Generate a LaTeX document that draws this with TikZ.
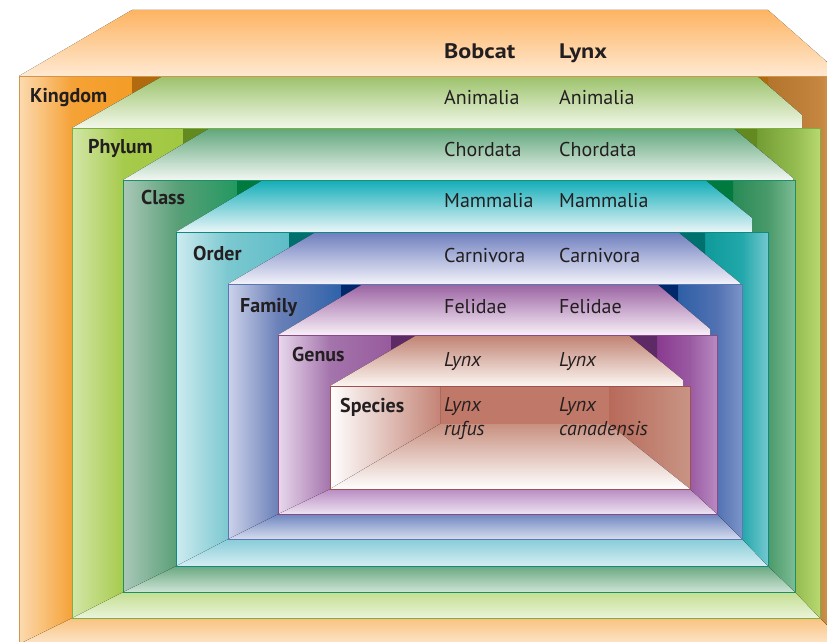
\documentclass[tikz,border=0pt]{standalone}
\usepackage{fontspec}
\setmainfont{PT Sans}
\newfontfamily\headfont{PT Sans}[FakeStretch=1.15]
\usetikzlibrary{positioning}

% level colours: roof top/bottom, left wall light/mid/dark, corner, right wall dark/mid/light, floor back/front, outline
\definecolor{ink}{HTML}{231F20}
\definecolor{kingRoof}{HTML}{FDB462}\definecolor{kingRoofL}{HTML}{FFE9D2}
\definecolor{kingWallL}{HTML}{FCDAB0}\definecolor{kingWallM}{HTML}{F5A236}\definecolor{kingWall}{HTML}{F39A1E}
\definecolor{kingDark}{HTML}{B26A0E}
\definecolor{kingSide}{HTML}{B07028}\definecolor{kingSideM}{HTML}{C48640}\definecolor{kingSideL}{HTML}{E4AA5C}
\definecolor{kingFlr}{HTML}{F8C27E}\definecolor{kingFlrL}{HTML}{FDE6CA}
\definecolor{kingLine}{HTML}{D0954A}
\definecolor{phylRoof}{HTML}{9BC26A}\definecolor{phylRoofL}{HTML}{F3F8EA}
\definecolor{phylWallL}{HTML}{D3E6A8}\definecolor{phylWallM}{HTML}{A6CB4C}\definecolor{phylWall}{HTML}{A0C63C}
\definecolor{phylDark}{HTML}{628A20}
\definecolor{phylSide}{HTML}{5E8A22}\definecolor{phylSideM}{HTML}{94BC50}\definecolor{phylSideL}{HTML}{B8D870}
\definecolor{phylFlr}{HTML}{C4DE90}\definecolor{phylFlrL}{HTML}{EAF4DA}
\definecolor{phylLine}{HTML}{7FAE45}
\definecolor{clasRoof}{HTML}{5FA67A}\definecolor{clasRoofL}{HTML}{F2F7F2}
\definecolor{clasWallL}{HTML}{AAC8B8}\definecolor{clasWallM}{HTML}{5AA078}\definecolor{clasWall}{HTML}{0C9656}
\definecolor{clasDark}{HTML}{007A3E}
\definecolor{clasSide}{HTML}{0E7E48}\definecolor{clasSideM}{HTML}{4A9A6A}\definecolor{clasSideL}{HTML}{7CBC94}
\definecolor{clasFlr}{HTML}{6AA880}\definecolor{clasFlrL}{HTML}{CDE4D6}
\definecolor{clasLine}{HTML}{1A9068}
\definecolor{ordRoof}{HTML}{12ADB8}\definecolor{ordRoofL}{HTML}{EAF6F8}
\definecolor{ordWallL}{HTML}{CDEBF0}\definecolor{ordWallM}{HTML}{7CC8D0}\definecolor{ordWall}{HTML}{50B8C4}
\definecolor{ordDark}{HTML}{00706E}
\definecolor{ordSide}{HTML}{00908F}\definecolor{ordSideM}{HTML}{22A8AA}\definecolor{ordSideL}{HTML}{74C8D0}
\definecolor{ordFlr}{HTML}{88CCD8}\definecolor{ordFlrL}{HTML}{D4EEF3}
\definecolor{ordLine}{HTML}{0E8A80}
\definecolor{famRoof}{HTML}{6E7EBE}\definecolor{famRoofL}{HTML}{F2F2FA}
\definecolor{famWallL}{HTML}{CDD2EA}\definecolor{famWallM}{HTML}{6A80B8}\definecolor{famWall}{HTML}{1A58A4}
\definecolor{famDark}{HTML}{00286A}
\definecolor{famSide}{HTML}{1A55A0}\definecolor{famSideM}{HTML}{5272B2}\definecolor{famSideL}{HTML}{7C94C8}
\definecolor{famFlr}{HTML}{6E86BE}\definecolor{famFlrL}{HTML}{D6DCEF}
\definecolor{famLine}{HTML}{5A78B4}
\definecolor{genRoof}{HTML}{9A62A2}\definecolor{genRoofL}{HTML}{F8F0F8}
\definecolor{genWallL}{HTML}{E8D8EC}\definecolor{genWallM}{HTML}{A474AC}\definecolor{genWall}{HTML}{925096}
\definecolor{genDark}{HTML}{5E2A66}
\definecolor{genSide}{HTML}{7A1F80}\definecolor{genSideM}{HTML}{9A5AA2}\definecolor{genSideL}{HTML}{B88AC0}
\definecolor{genFlr}{HTML}{B88CC2}\definecolor{genFlrL}{HTML}{EEE2F2}
\definecolor{genLine}{HTML}{8A4A88}
\definecolor{spRoof}{HTML}{C08272}\definecolor{spRoofL}{HTML}{FCF6F2}
\definecolor{spWallM}{HTML}{D6A89A}\definecolor{spWall}{HTML}{C48476}\definecolor{spBack}{HTML}{C07868}
\definecolor{spSide}{HTML}{B86A5A}\definecolor{spSideL}{HTML}{C89484}
\definecolor{spFlr}{HTML}{C89080}
\definecolor{spLine}{HTML}{A05050}

\tikzset{
  roof/.style 2 args={top color=#1, bottom color=#2},
  flr/.style 2 args={top color=#1, bottom color=#2},
  wall/.style 2 args={left color=#1, right color=#2},
  front/.style={draw=#1, line width=0.9pt},
  rank/.style={anchor=base west, inner sep=0pt, text=ink,
    font=\fontsize{20}{24}\selectfont\bfseries},
  head/.style={anchor=base west, inner sep=0pt, text=ink,
    font=\headfont\fontsize{21}{24}\selectfont\bfseries},
  taxon/.style={anchor=base west, inner sep=0pt, text=ink,
    font=\fontsize{20}{24}\selectfont},
  genname/.style={taxon, font=\fontsize{20}{24}\selectfont\itshape}
}

\begin{document}
\begin{tikzpicture}[x=1pt, y=-1pt]
\path[use as bounding box] (0,0) rectangle (827,642);
\clip (0,0) rectangle (827,642);

% Kingdom
\fill[roof={kingRoof}{kingRoofL}] (19,76) -- (132,10) -- (768,10) -- (843,76) -- cycle;
\fill[flr={kingFlr}{kingFlrL}] (72,618) -- (820,618) -- (846,644) -- (19,644) -- cycle;
\fill[wall={kingWallL}{kingWallM}] (19,76) -- (72,76) -- (72,618) -- (19,644) -- cycle;
\fill[wall={kingWallM}{kingWall}] (72,76) -- (163,76) -- (72,128) -- cycle;
\fill[kingDark] (132,76) -- (163,76) -- (132,93.7) -- cycle;
\fill[wall={kingSide}{kingSideM}] (757,76) -- (820,76) -- (820,128) -- (802,128) -- (802,115) -- cycle;
\fill[wall={kingSideM}{kingSideL}] (820,76) -- (846,76) -- (846,644) -- (820,618) -- cycle;
\fill[kingDark] (757,76) -- (768,76) -- (768,85.5) -- cycle;

% Phylum
\fill[roof={phylRoof}{phylRoofL}] (72,128) -- (163,76) -- (757,76) -- (802,115) -- (802,128) -- cycle;
\fill[flr={phylFlr}{phylFlrL}] (123,592) -- (795,592) -- (820,618) -- (72,618) -- cycle;
\fill[wall={phylWallL}{phylWallM}] (72,128) -- (123,128) -- (123,592) -- (72,618) -- cycle;
\fill[wall={phylWallM}{phylWall}] (123,128) -- (210,128) -- (123,180) -- cycle;
\fill[phylDark] (183,128) -- (210,128) -- (183,144) -- cycle;
\fill[wall={phylSide}{phylSideM}] (733,128) -- (795,128) -- (795,180) -- (793,180) -- (793,178) -- cycle;
\fill[wall={phylSideM}{phylSideL}] (795,128) -- (820,128) -- (820,618) -- (795,592) -- cycle;
\fill[phylDark] (733,128) -- (757,128) -- (757,148) -- cycle;

% Class
\fill[roof={clasRoof}{clasRoofL}] (123,180) -- (210,128) -- (733,128) -- (793,178) -- (793,180) -- cycle;
\fill[flr={clasFlr}{clasFlrL}] (176,566) -- (768,566) -- (795,592) -- (123,592) -- cycle;
\fill[wall={clasWallL}{clasWallM}] (123,180) -- (176,180) -- (176,566) -- (123,592) -- cycle;
\fill[wall={clasWallM}{clasWall}] (176,180) -- (263,180) -- (176,232) -- cycle;
\fill[clasDark] (237,180) -- (263,180) -- (237,195.5) -- cycle;
\fill[wall={clasSide}{clasSideM}] (705,180) -- (768,180) -- (768,232) -- (752,232) -- (752,218) -- cycle;
\fill[wall={clasSideM}{clasSideL}] (768,180) -- (795,180) -- (795,592) -- (768,566) -- cycle;
\fill[clasDark] (705,180) -- (733,180) -- (733,202.6) -- cycle;

% Order
\fill[roof={ordRoof}{ordRoofL}] (176,232) -- (263,180) -- (705,180) -- (752,218) -- (752,232) -- cycle;
\fill[flr={ordFlr}{ordFlrL}] (228,539) -- (742,539) -- (768,566) -- (176,566) -- cycle;
\fill[wall={ordWallL}{ordWallM}] (176,232) -- (228,232) -- (228,539) -- (176,566) -- cycle;
\fill[wall={ordWallM}{ordWall}] (228,232) -- (316,232) -- (228,284) -- cycle;
\fill[ordDark] (289,232) -- (316,232) -- (289,248) -- cycle;
\fill[wall={ordSide}{ordSideM}] (678,232) -- (742,232) -- (742,284) -- (740,284) -- (740,283) -- cycle;
\fill[wall={ordSideM}{ordSideL}] (742,232) -- (768,232) -- (768,566) -- (742,539) -- cycle;
\fill[ordDark] (678,232) -- (705,232) -- (705,254) -- cycle;

% Family
\fill[roof={famRoof}{famRoofL}] (228,284) -- (316,232) -- (678,232) -- (740,283) -- (740,284) -- cycle;
\fill[flr={famFlr}{famFlrL}] (278,514) -- (717,514) -- (742,539) -- (228,539) -- cycle;
\fill[wall={famWallL}{famWallM}] (228,284) -- (278,284) -- (278,514) -- (228,539) -- cycle;
\fill[wall={famWallM}{famWall}] (278,284) -- (363,284) -- (278,335) -- cycle;
\fill[famDark] (341,284) -- (363,284) -- (341,297) -- cycle;
\fill[wall={famSide}{famSideM}] (657,284) -- (717,284) -- (717,335) -- (710,335) -- (710,329) -- cycle;
\fill[wall={famSideM}{famSideL}] (717,284) -- (742,284) -- (742,539) -- (717,514) -- cycle;
\fill[famDark] (657,284) -- (678,284) -- (678,302) -- cycle;

% Genus
\fill[roof={genRoof}{genRoofL}] (278,335) -- (363,284) -- (657,284) -- (710,329) -- (710,335) -- cycle;
\fill[flr={genFlr}{genFlrL}] (330,489) -- (690,489) -- (717,514) -- (278,514) -- cycle;
\fill[wall={genWallL}{genWallM}] (278,335) -- (330,335) -- (330,489) -- (278,514) -- cycle;
\fill[wall={genWallM}{genWall}] (330,335) -- (417,335) -- (330,386) -- cycle;
\fill[genDark] (391,335) -- (417,335) -- (391,350) -- cycle;
\fill[wall={genSide}{genSideM}] (628,335) -- (690,335) -- (690,386) -- (683,386) -- (683,380) -- cycle;
\fill[wall={genSideM}{genSideL}] (690,335) -- (717,335) -- (717,514) -- (690,489) -- cycle;
\fill[genDark] (628,335) -- (657,335) -- (657,359) -- cycle;

% Species
\fill[roof={spRoof}{spRoofL}] (330,386) -- (417,335) -- (628,335) -- (683,380) -- (683,386) -- cycle;
\fill[spBack] (440,386) rectangle (609,424);
\fill[left color=white, middle color=spWallM, right color=spWall] (330,386) -- (440,386) -- (440,424) -- (330,489) -- cycle;
\fill[wall={spSide}{spSideL}] (609,386) -- (690,386) -- (690,489) -- (609,424) -- cycle;
\fill[flr={spFlr}{white}] (440,424) -- (609,424) -- (690,489) -- (330,489) -- cycle;

% front edges
\draw[front=kingLine] (19,76) rectangle (846,644);
\draw[front=phylLine] (72,128) rectangle (820,618);
\draw[front=clasLine] (123,180) rectangle (795,592);
\draw[front=ordLine] (176,232) rectangle (768,566);
\draw[front=famLine] (228,284) rectangle (742,539);
\draw[front=genLine] (278,335) rectangle (717,514);
\draw[front=spLine] (330,386) rectangle (690,489);

% ranks
\node[rank] (kingdom) at (30,102) {Kingdom};
\node[rank] (phylum) at (88,153) {Phylum};
\node[rank] (class) at (141,204) {Class};
\node[rank] (order) at (193,260) {Order};
\node[rank] (family) at (240,312) {Family};
\node[rank] (genus) at (292,361) {Genus};
\node[rank] (species) at (340,412) {Species};

% bobcat column
\node[head] (bobcat) at (444,59) {Bobcat};
\node[taxon] (bobKing) at (444,104) {Animalia};
\node[taxon] (bobPhyl) at (444,156) {Chordata};
\node[taxon] (bobClas) at (444,207) {Mammalia};
\node[taxon] (bobOrd) at (444,262) {Carnivora};
\node[taxon] (bobFam) at (444,313) {Felidae};
\node[genname] (bobGen) at (444,366) {Lynx};
\node[genname] (bobSp) at (444,411) {Lynx};
\node[genname] (bobSpEp) at (444,435) {rufus};

% lynx column
\node[head] (lynx) at (559,59) {Lynx};
\node[taxon] (lynKing) at (559,104) {Animalia};
\node[taxon] (lynPhyl) at (559,156) {Chordata};
\node[taxon] (lynClas) at (559,207) {Mammalia};
\node[taxon] (lynOrd) at (559,262) {Carnivora};
\node[taxon] (lynFam) at (559,313) {Felidae};
\node[genname] (lynGen) at (559,366) {Lynx};
\node[genname] (lynSp) at (559,411) {Lynx};
\node[genname] (lynSpEp) at (559,435) {canadensis};
\end{tikzpicture}
\end{document}
